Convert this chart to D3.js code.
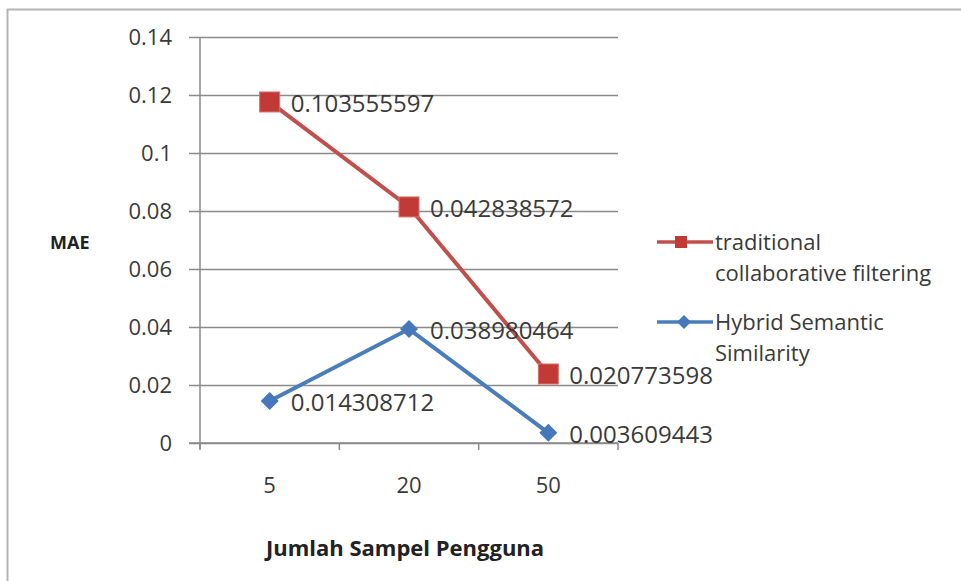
<!DOCTYPE html>
<html><head><meta charset="utf-8">
<script src="https://cdn.jsdelivr.net/npm/d3@7"></script>
<style>
html,body{margin:0;padding:0;background:#fff;}
svg{display:block;font-family:"Open Sans",Lato,sans-serif;}
</style></head>
<body><svg id="c" width="961" height="581"></svg>
<script>
const categories = ["5", "20", "50"];
const traditionalValues = [0.1176, 0.0814, 0.0238];
const traditionalLabels = ["0.103555597", "0.042838572", "0.020773598"];
const hybridValues = [0.0145, 0.0393, 0.0035];
const hybridLabels = ["0.014308712", "0.038980464", "0.003609443"];
const yTicks = [0, 0.02, 0.04, 0.06, 0.08, 0.1, 0.12, 0.14];
const yTickLabels = ["0", "0.02", "0.04", "0.06", "0.08", "0.1", "0.12", "0.14"];
const seriesNames = ["traditional|collaborative filtering", "Hybrid Semantic|Similarity"];

const svg = d3.select("#c");
const L = 200, R = 618, T = 37, B = 443;
const x = d3.scaleBand().domain(categories).range([L, R]);
const y = d3.scaleLinear().domain([0, 0.14]).range([B, T]);
const textCol = "#3a3a3a";

// frame
svg.append("path").attr("d", "M7.5,581 V9.5 H961").attr("fill", "none")
  .attr("stroke", "#b4b4b4").attr("stroke-width", 2);

// y grid + axis
const yAx = svg.append("g").attr("transform", `translate(${L},0)`)
  .call(d3.axisLeft(y).tickValues(yTicks).tickSize(0).tickPadding(28)
    .tickFormat((d, i) => yTickLabels[i]));
yAx.select(".domain").remove();
yAx.selectAll(".tick line").attr("x1", -11).attr("x2", R - L)
  .attr("stroke", "#8a8a8a").attr("stroke-width", 1.5);
yAx.selectAll(".tick text").attr("fill", textCol).attr("font-size", 22)
  .attr("font-family", "'Open Sans',sans-serif");
svg.append("line").attr("x1", L).attr("x2", L).attr("y1", T).attr("y2", B + 6)
  .attr("stroke", "#8a8a8a").attr("stroke-width", 1.5);

// x axis
const xAx = svg.append("g").attr("transform", `translate(0,${B})`)
  .call(d3.axisBottom(x).tickSize(0).tickPadding(34));
xAx.select(".domain").remove();
xAx.selectAll(".tick text").attr("fill", textCol).attr("font-size", 22)
  .attr("font-family", "'Open Sans',sans-serif");
svg.append("line").attr("x1", L - 11).attr("x2", R).attr("y1", B).attr("y2", B)
  .attr("stroke", "#8a8a8a").attr("stroke-width", 1.5);
const bounds = categories.map(c => x(c)).concat([R]);
svg.selectAll(".xt").data(bounds).enter().append("line")
  .attr("x1", d => d).attr("x2", d => d).attr("y1", B).attr("y2", B + 7)
  .attr("stroke", "#8a8a8a").attr("stroke-width", 1.5);

const cx = c => x(c) + x.bandwidth() / 2;
const line = d3.line().x((d, i) => cx(categories[i])).y(d => y(d));

const red = "#c0504d", blue = "#4a7ebb";

// traditional
svg.append("path").datum(traditionalValues).attr("d", line).attr("fill", "none")
  .attr("stroke", red).attr("stroke-width", 4);
svg.selectAll(".sq").data(traditionalValues).enter().append("rect")
  .attr("x", (d, i) => cx(categories[i]) - 10).attr("y", d => y(d) - 10)
  .attr("width", 20).attr("height", 20).attr("fill", "#c23a36")
  .attr("stroke", "#d9706c").attr("stroke-width", 1);

// hybrid
svg.append("path").datum(hybridValues).attr("d", line).attr("fill", "none")
  .attr("stroke", blue).attr("stroke-width", 4);
const diamond = (cxv, cyv, r) => `M${cxv},${cyv - r}L${cxv + r},${cyv}L${cxv},${cyv + r}L${cxv - r},${cyv}Z`;
svg.selectAll(".dm").data(hybridValues).enter().append("path")
  .attr("d", (d, i) => diamond(cx(categories[i]), y(d), 9)).attr("fill", "#4677bb");

// data labels
function labels(vals, labs) {
  svg.selectAll(null).data(vals).enter().append("text")
    .attr("x", (d, i) => cx(categories[i]) + 21).attr("y", d => y(d) + 2)
    .attr("dy", "0.35em").attr("fill", textCol).style("font-size", "24px")
    .text((d, i) => labs[i]);
}
labels(traditionalValues, traditionalLabels);
labels(hybridValues, hybridLabels);

// axis titles
svg.append("text").attr("x", 50).attr("y", 243).attr("dy", "0.35em")
  .attr("fill", "#222").style("font-size", "18px").style("font-weight", "bold").text("MAE");
svg.append("text").attr("x", 405).attr("y", 548).attr("dy", "0.35em")
  .attr("text-anchor", "middle").attr("fill", "#222").style("font-size", "22px")
  .style("font-weight", "bold").text("Jumlah Sampel Pengguna");

// legend
const lg = svg.append("g");
const legY = [242, 322];
const colors = [red, blue];
seriesNames.forEach((name, i) => {
  const yy = legY[i];
  lg.append("line").attr("x1", 657).attr("x2", 713).attr("y1", yy).attr("y2", yy)
    .attr("stroke", colors[i]).attr("stroke-width", 3.5);
  if (i === 0) lg.append("rect").attr("x", 675).attr("y", yy - 6).attr("width", 12).attr("height", 12).attr("fill", "#c23a36");
  else lg.append("path").attr("d", diamond(684, yy, 7)).attr("fill", "#4677bb");
  const t = lg.append("text").attr("x", 715).attr("y", yy)
    .attr("fill", textCol).style("font-size", "22px");
  name.split("|").forEach((s, j) => {
    t.append("tspan").attr("x", 715).attr("dy", j === 0 ? "0.35em" : "31px").text(s);
  });
});
</script></body></html>
